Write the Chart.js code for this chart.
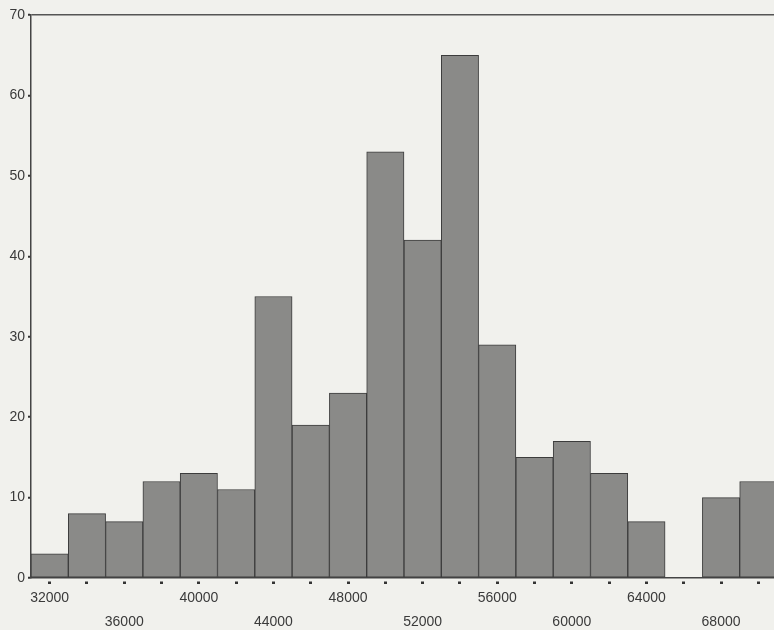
<!DOCTYPE html>
<html lang="en">
<head>
	<meta charset="UTF-8">
	<title>Histogram</title>
	<script src="https://cdn.jsdelivr.net/npm/chart.js@4.4.0/dist/chart.umd.min.js"></script>
	<style>
		body { margin: 0; background: #f1f1ed; }
		canvas { display: block; }
	</style>
</head>
<body>

	<canvas id="myChart" width="774" height="630"></canvas>

	<script>
	// bin centres (bin width 2000) and counts
	let binCenters = [32000, 34000, 36000, 38000, 40000, 42000, 44000, 46000, 48000, 50000,
		52000, 54000, 56000, 58000, 60000, 62000, 64000, 66000, 68000, 70000]
	let counts = [3, 8, 7, 12, 13, 11, 35, 19, 23, 53,
		42, 65, 29, 15, 17, 13, 7, null, 10, 12]
	let yTicks = [0, 10, 20, 30, 40, 50, 60, 70]

	let points = binCenters.map((x, i) => ({ x: x, y: counts[i] }))
	let font = { family: 'Liberation Sans', size: 14 }

	var ctx = document.getElementById('myChart').getContext('2d');
	var chart = new Chart(ctx, {
		type: 'bar',
		data: {
			datasets: [{
				data: points,
				backgroundColor: '#8a8a88',
				borderColor: '#3c3c3c',
				borderWidth: 1,
				borderSkipped: false,
				barPercentage: 1,
				categoryPercentage: 1
			}]
		},
		options: {
			responsive: false,
			animation: false,
			devicePixelRatio: 1,
			layout: { padding: { top: 15, left: 0, right: 0, bottom: 0 } },
			plugins: { legend: { display: false }, tooltip: { enabled: false } },
			scales: {
				x: {
					type: 'linear',
					min: 31000,
					max: 70840,
					offset: false,
					afterBuildTicks: (scale) => {
						scale.ticks = binCenters.map(v => ({ value: v }))
					},
					afterFit: (scale) => { scale.height = 52 },
					border: { display: true, color: '#444', width: 1.5 },
					grid: {
						offset: false,
						drawOnChartArea: false,
						tickLength: 6,
						tickWidth: 3,
						tickColor: '#333',
						tickBorderDash: [3, 3],
						tickBorderDashOffset: 3
					},
					ticks: {
						autoSkip: false,
						maxRotation: 0,
						padding: 2,
						color: '#3a3a3a',
						font: { family: 'Liberation Sans', size: 14, lineHeight: '24px' },
						callback: (value, index) => {
							if (index % 4 === 0) return String(value)
							if (index % 4 === 2) return ['', String(value)]
							return ''
						}
					}
				},
				y: {
					min: 0,
					max: 70,
					afterBuildTicks: (scale) => {
						scale.ticks = yTicks.map(v => ({ value: v }))
					},
					afterFit: (scale) => { scale.width = 31 },
					border: { display: true, color: '#444', width: 1.5 },
					grid: {
						color: (c) => c.tick && c.tick.value === 70 ? '#555' : 'transparent',
						lineWidth: 1.5,
						tickLength: 3,
						tickColor: '#333',
						tickWidth: 2
					},
					ticks: {
						padding: 3,
						color: '#3a3a3a',
						font: font
					}
				}
			}
		}
	});
	</script>
</body>
</html>
